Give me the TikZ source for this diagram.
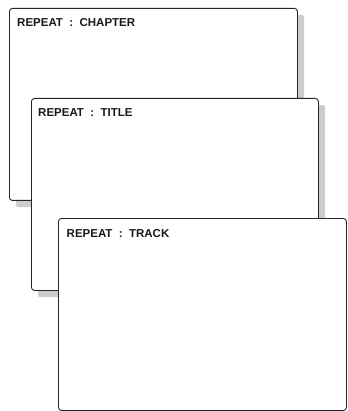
\documentclass[tikz,border=0pt]{standalone}
\usepackage{fontspec}
\setmainfont{Liberation Sans}
\begin{document}
\begin{tikzpicture}[x=1pt,y=-1pt,
  panel/.style={draw=black!85, line width=0.9pt, fill=white, rounded corners=3pt, inner sep=0pt, anchor=north west},
  shade/.style={fill=black!20, draw=none, rounded corners=2pt, inner sep=0pt, anchor=north west},
  caption/.style={font=\bfseries\fontsize{11.5}{13}\selectfont, anchor=base west, inner sep=0pt, text=black!90}]
\useasboundingbox (0,0) rectangle (347,411);
% box 1
\node[shade, minimum width=288pt, minimum height=192pt] (s1) at (16,15) {};
\node[panel, minimum width=288pt, minimum height=192pt] (b1) at (9,8) {};
\node[caption] (t1) at (17,27) {REPEAT\ \ :\ \ CHAPTER};
% box 2
\node[shade, minimum width=287pt, minimum height=192pt] (s2) at (38,105) {};
\node[panel, minimum width=287pt, minimum height=192pt] (b2) at (31,98) {};
\node[caption] (t2) at (38,117) {REPEAT\ \ :\ \ TITLE};
% box 3
\node[panel, minimum width=288pt, minimum height=192pt] (b3) at (58,218) {};
\node[caption] (t3) at (66.5,237) {REPEAT\ \ :\ \ TRACK};
\end{tikzpicture}
\end{document}
